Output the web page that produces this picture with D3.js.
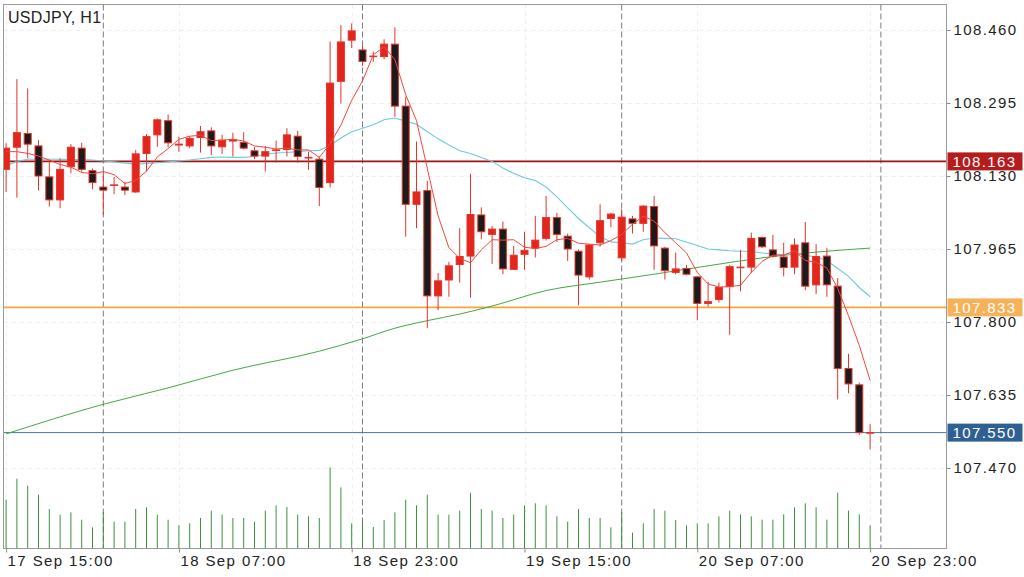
<!DOCTYPE html>
<html><head><meta charset="utf-8">
<script src="https://cdn.jsdelivr.net/npm/d3@7"></script>
<style>
body{margin:0;background:#fff;}
svg{display:block;font-family:"Liberation Sans",Arial,Helvetica,sans-serif;}
</style>
</head><body>
<svg id="chart" width="1024" height="577"></svg>
<script>
// ---------------- DATA ----------------
const symbolTitle = "USDJPY, H1";
const firstBar = "2019-09-17 15:00";
const barCount = 81;

const opens = [108.145,108.195,108.226,108.198,108.128,108.076,108.151,108.193,108.142,108.105,
108.109,108.105,108.094,108.181,108.223,108.255,108.200,108.198,108.217,108.232,
108.196,108.209,108.206,108.187,108.175,108.188,108.190,108.220,108.171,108.168,
108.115,108.344,108.437,108.415,108.400,108.400,108.428,108.288,108.066,108.097,
107.859,107.895,107.930,107.949,108.042,107.998,108.010,107.919,107.953,107.967,
107.989,108.036,107.994,107.960,107.902,107.979,108.034,107.945,108.033,108.023,
108.061,107.967,107.912,107.921,107.902,107.842,107.851,107.880,107.923,107.924,
107.991,107.963,107.947,107.924,107.979,107.884,107.949,107.881,107.695,107.658,107.549];

const highs = [108.204,108.349,108.328,108.211,108.166,108.170,108.202,108.205,108.147,108.140,
108.128,108.117,108.189,108.225,108.260,108.269,108.219,108.220,108.243,108.240,
108.223,108.228,108.229,108.196,108.198,108.210,108.238,108.232,108.185,108.174,
108.434,108.471,108.475,108.424,108.411,108.439,108.466,108.309,108.208,108.119,
107.911,107.936,108.012,108.135,108.059,108.017,108.027,107.972,108.004,108.040,
108.085,108.047,108.000,107.964,107.976,108.066,108.047,108.055,108.040,108.064,
108.085,107.970,107.957,107.929,107.904,107.891,107.889,107.929,107.963,108.002,
107.993,107.997,107.979,107.989,108.026,107.976,107.967,107.899,107.728,107.663,107.569];

const lows = [108.094,108.081,108.170,108.097,108.061,108.057,108.136,108.140,108.100,108.042,
108.089,108.087,108.092,108.140,108.196,108.195,108.185,108.193,108.183,108.177,
108.180,108.174,108.190,108.168,108.140,108.160,108.174,108.160,108.144,108.062,
108.104,108.294,108.419,108.379,108.388,108.394,108.264,107.993,108.012,107.786,
107.827,107.857,107.889,107.855,107.987,107.931,107.908,107.918,107.918,107.946,
107.984,107.981,107.938,107.838,107.896,107.970,108.014,107.938,108.000,108.004,
107.918,107.896,107.908,107.906,107.804,107.835,107.844,107.771,107.869,107.911,
107.967,107.946,107.903,107.908,107.872,107.863,107.857,107.625,107.639,107.545,107.512];

const closes = [108.193,108.228,108.202,108.130,108.076,108.145,108.195,108.145,108.115,108.098,
108.110,108.098,108.180,108.219,108.257,108.205,108.202,108.215,108.230,108.198,
108.211,108.212,108.193,108.175,108.185,108.189,108.223,108.174,108.172,108.104,
108.340,108.433,108.458,108.389,108.401,108.428,108.288,108.066,108.094,107.859,
107.893,107.927,107.948,108.043,108.004,108.010,107.920,107.951,107.962,107.985,
108.036,107.998,107.965,107.906,107.974,108.029,108.044,108.037,108.023,108.062,
107.972,107.916,107.920,107.908,107.842,107.846,107.878,107.925,107.924,107.989,
107.970,107.949,107.923,107.974,107.881,107.948,107.884,107.695,107.660,107.550,107.550];

const volumes = [1450,2080,1870,1600,1170,1000,1070,850,620,1080,
790,790,1170,1220,1000,850,680,740,900,1120,
1000,900,900,790,1120,1280,1230,1000,950,900,
2420,1820,740,790,630,840,1070,1450,1280,1600,
1000,1000,1120,1660,1170,1120,900,1000,1280,1340,
1280,950,790,1170,900,900,620,1080,460,740,
1170,1120,840,680,740,740,950,1120,1010,950,
850,850,1010,1220,1340,1220,850,1660,1120,1010,680];

const maFast = [108.185,108.185,108.181,108.175,108.166,108.156,108.150,108.138,108.135,108.140,
108.133,108.113,108.120,108.141,108.173,108.192,108.213,108.220,108.222,108.210,
108.211,108.213,108.209,108.198,108.195,108.191,108.193,108.189,108.189,108.172,
108.203,108.245,108.301,108.345,108.404,108.422,108.393,108.314,108.255,108.147,
108.040,107.968,107.944,107.934,107.963,107.986,107.985,107.986,107.969,107.966,
107.971,107.986,107.989,107.978,107.976,107.974,107.984,107.998,108.021,108.039,
108.028,108.002,107.979,107.956,107.912,107.886,107.879,107.880,107.883,107.912,
107.937,107.951,107.951,107.961,107.939,107.935,107.922,107.876,107.814,107.747,107.668];

const maMid = [108.153,108.163,108.168,108.168,108.168,108.168,108.167,108.167,108.166,108.164,
108.162,108.159,108.157,108.158,108.160,108.162,108.164,108.166,108.169,108.172,
108.173,108.172,108.172,108.174,108.179,108.182,108.183,108.185,108.187,108.188,
108.199,108.216,108.230,108.238,108.246,108.257,108.261,108.254,108.247,108.230,
108.214,108.200,108.187,108.181,108.172,108.163,108.148,108.136,108.126,108.120,
108.105,108.083,108.058,108.034,108.013,107.993,107.981,107.979,107.976,107.986,
107.990,107.989,107.988,107.981,107.973,107.965,107.963,107.961,107.960,107.960,
107.956,107.954,107.952,107.955,107.951,107.947,107.939,107.921,107.903,107.878,107.857];

const maSlowBar = [0,9,15,21,29,33,36,39,42,45,50,55,60,65,70,75,80];
const maSlowVal = [107.547,107.614,107.651,107.691,107.734,107.762,107.786,107.803,107.818,107.836,
107.871,107.890,107.908,107.927,107.945,107.958,107.967];

const priceTicks = [108.460,108.295,108.130,107.965,107.800,107.635,107.470];
const timeTickLabels = ["17 Sep 15:00","18 Sep 07:00","18 Sep 23:00","19 Sep 15:00","20 Sep 07:00","20 Sep 23:00"];
const levelValues = [108.163,107.833,107.550];

// ---------------- LAYOUT / STYLE ----------------
const frame = {left:3.5, top:4.5, right:946.5, bottom:548.5};
const levelStyles = [
  {line:"#a01212", box:"#b51c1c", width:1.6},
  {line:"#f6a53c", box:"#f7b158", width:1.6},
  {line:"#4a74a8", box:"#2f5f93", width:1}
];
const UP = "#e3261c", DOWN = "#1b1b1b", EDGE = "#e3342b";

const svg = d3.select("#chart");
const parseBar = d3.utcParse("%Y-%m-%d %H:%M");
const t0 = parseBar(firstBar);
const times = d3.utcHour.range(t0, d3.utcHour.offset(t0, barCount));

const x = d3.scaleUtc().domain([times[0], times[barCount-1]]).range([6.1, 870.1]);
const y = d3.scaleLinear().domain([107.470, 108.460]).range([468, 30]);
const yVol = d3.scaleLinear().domain([0, 3000]).range([548, 448]);

const parseTick = d3.utcParse("%Y %d %b %H:%M");
const tickDates = timeTickLabels.map(s => parseTick("2019 " + s));

// clip
svg.append("defs").append("clipPath").attr("id","plot")
  .append("rect").attr("x",frame.left).attr("y",frame.top)
  .attr("width",frame.right-frame.left).attr("height",frame.bottom-frame.top);

const plot = svg.append("g").attr("clip-path","url(#plot)");

// faint grid
plot.append("g").selectAll("line").data(priceTicks).join("line")
  .attr("x1",frame.left).attr("x2",frame.right)
  .attr("y1",d=>Math.round(y(d))+0.5).attr("y2",d=>Math.round(y(d))+0.5)
  .attr("stroke","#ededed").attr("stroke-dasharray","4,4");
plot.append("g").selectAll("line").data(tickDates).join("line")
  .attr("x1",d=>Math.round(x(d))+0.5).attr("x2",d=>Math.round(x(d))+0.5)
  .attr("y1",frame.top).attr("y2",frame.bottom)
  .attr("stroke","#ededed").attr("stroke-dasharray","4,4");

// day separators
const days = d3.utcDay.range(times[0], d3.utcHour.offset(times[barCount-1], 2));
plot.append("g").selectAll("line").data(days).join("line")
  .attr("x1",d=>x(d)).attr("x2",d=>x(d))
  .attr("y1",frame.top).attr("y2",frame.bottom)
  .attr("stroke","#7a7a7a").attr("stroke-width",1).attr("stroke-dasharray","6,3");

// volumes
plot.append("g").selectAll("line").data(volumes).join("line")
  .attr("x1",(d,i)=>x(times[i])).attr("x2",(d,i)=>x(times[i]))
  .attr("y1",yVol(0)).attr("y2",d=>yVol(d))
  .attr("stroke","#3d8f3d").attr("stroke-width",1);

// price levels
plot.append("g").selectAll("line").data(levelValues).join("line")
  .attr("x1",frame.left).attr("x2",frame.right)
  .attr("y1",d=>y(d)).attr("y2",d=>y(d))
  .attr("stroke",(d,i)=>levelStyles[i].line).attr("stroke-width",(d,i)=>levelStyles[i].width);

// moving averages
const lineGen = d3.line().x(d=>x(d[0])).y(d=>y(d[1]));
plot.append("path")
  .datum(maSlowBar.map((b,k)=>[times[b], maSlowVal[k]]))
  .attr("d", d3.line().x(d=>x(d[0])).y(d=>y(d[1])).curve(d3.curveMonotoneX))
  .attr("fill","none").attr("stroke","#43a843").attr("stroke-width",1);
plot.append("path")
  .datum(maMid.map((v,i)=>[times[i], v]))
  .attr("d", lineGen).attr("fill","none").attr("stroke","#6ccbdc").attr("stroke-width",1.1);

// candles
const candles = plot.append("g");
const bars = d3.range(barCount);
candles.selectAll("line").data(bars).join("line")
  .attr("x1",i=>x(times[i])).attr("x2",i=>x(times[i]))
  .attr("y1",i=>y(highs[i])).attr("y2",i=>y(lows[i]))
  .attr("stroke",EDGE).attr("stroke-width",1);
candles.selectAll("rect").data(bars).join("rect")
  .attr("x",i=>x(times[i])-3.5)
  .attr("width",7)
  .attr("y",i=>y(Math.max(opens[i],closes[i])))
  .attr("height",i=>Math.max(0.6, Math.abs(y(opens[i])-y(closes[i]))))
  .attr("fill",i=>closes[i]>=opens[i]?UP:DOWN)
  .attr("stroke",EDGE).attr("stroke-width",1);

// fast MA on top
plot.append("path")
  .datum(maFast.map((v,i)=>[times[i], v]))
  .attr("d", lineGen).attr("fill","none").attr("stroke","#f2473d").attr("stroke-width",1);

// frame
svg.append("rect").attr("x",frame.left).attr("y",frame.top)
  .attr("width",frame.right-frame.left).attr("height",frame.bottom-frame.top)
  .attr("fill","none").attr("stroke","#9a9a9a").attr("stroke-width",1);

// axes
const yAxis = d3.axisRight(y).tickValues(priceTicks).tickFormat(d3.format(".3f")).tickSize(4).tickPadding(3);
const gy = svg.append("g").attr("transform",`translate(${frame.right},0)`).call(yAxis);
gy.select(".domain").remove();
gy.selectAll(".tick line").attr("stroke","#888");
gy.selectAll("text").attr("font-size",15).attr("fill","#222").attr("letter-spacing","1.4px")
  .attr("font-family","'Liberation Sans',Arial,sans-serif");

const xAxis = d3.axisBottom(x).tickValues(tickDates).tickFormat(d3.utcFormat("%d %b %H:%M")).tickSize(4).tickPadding(3);
const gx = svg.append("g").attr("transform",`translate(0,${frame.bottom})`).call(xAxis);
gx.select(".domain").remove();
gx.selectAll(".tick line").attr("stroke","#888");
gx.selectAll("text").attr("font-size",15).attr("fill","#222").attr("letter-spacing","1.4px")
  .attr("text-anchor","start").attr("dx",1)
  .attr("font-family","'Liberation Sans',Arial,sans-serif");

// level boxes
const boxes = svg.append("g").selectAll("g").data(levelValues).join("g")
  .attr("transform",d=>`translate(${frame.right+1},${y(d)})`);
boxes.append("rect").attr("x",0).attr("y",-9).attr("width",75).attr("height",18)
  .attr("fill",(d,i)=>levelStyles[i].box);
boxes.append("text").attr("x",5).attr("dy","0.36em")
  .attr("font-size",15).attr("fill","#fff").attr("letter-spacing","1.4px")
  .text(d=>d3.format(".3f")(d));

// title
svg.append("text").attr("x",8).attr("y",23).attr("font-size",16).attr("fill","#222")
  .attr("letter-spacing","0.3px").text(symbolTitle);
</script>
</body></html>
